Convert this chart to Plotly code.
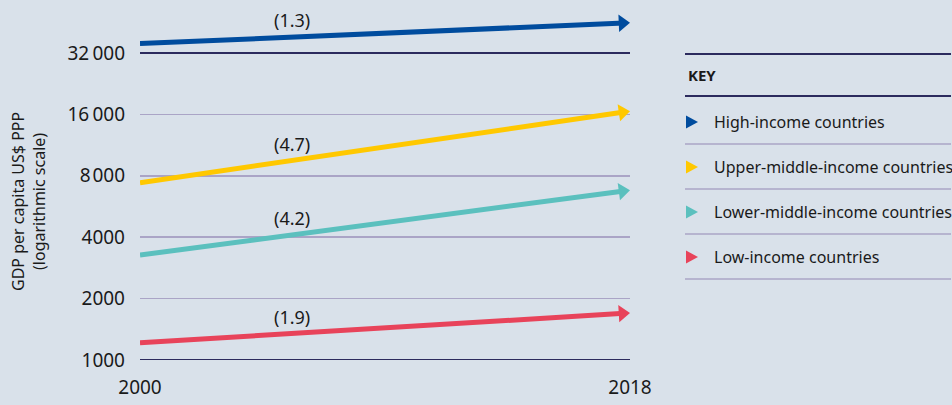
import numpy as np
import plotly.graph_objects as go

# ---------------- data ----------------
years = [2000, 2018]
series_names = [
    "High-income countries",
    "Upper-middle-income countries",
    "Lower-middle-income countries",
    "Low-income countries",
]
gdp_2000 = [35600, 7400, 3270, 1215]
gdp_2018 = [45000, 16600, 6800, 1700]
growth_labels = ["(1.3)", "(4.7)", "(4.2)", "(1.9)"]
colors = ["#004c9e", "#ffc800", "#5bc0be", "#e8435a"]
y_tickvals = [1000, 2000, 4000, 8000, 16000, 32000]
y_ticktext = ["1000", "2000", "4000", "8\u200a000", "16\u2009000", "32\u2009000"]
x_tickvals = [2000, 2018]
y_title = "GDP per capita US$ PPP<br>(logarithmic scale)"

# ---------------- style ----------------
BG = "#d9e1ea"
DARK = "#2c2b5e"
LIGHT = "#aaa4c6"
TXT = "#1a1a1a"
FONT = "Noto Sans"

W, H = 952, 405
# plot area in page pixels: x 140..630, y 10..360
ML, MT = 140, 10
PW, PH = 490, 350
MR = W - ML - PW
MB = H - MT - PH
PX_PER_DECADE = 203.97
HEAD = 15  # arrow head marker size


def px_x(p):
    """page pixel x -> paper coordinate"""
    return (p - ML) / PW


def px_y(p):
    """page pixel y -> paper coordinate"""
    return (MT + PH - p) / PH


fig = go.Figure()

for name, a, b, c in zip(series_names, gdp_2000, gdp_2018, colors):
    fig.add_trace(go.Scatter(
        x=years, y=[a, b], mode="lines+markers", name=name,
        line=dict(color=c, width=5, backoff=6),
        marker=dict(symbol="triangle-up", size=[0, HEAD], angleref="previous",
                    standoff=HEAD / 2, color=c, opacity=1,
                    line=dict(width=0)),
        cliponaxis=False, hoverinfo="skip", showlegend=False,
    ))

# growth-rate labels placed along each line
frac = 0.31
annotations = []
for lab, a, b in zip(growth_labels, gdp_2000, gdp_2018):
    lx = years[0] + frac * (years[1] - years[0])
    ly = np.log10(a) + frac * (np.log10(b) - np.log10(a))
    annotations.append(dict(x=lx, y=ly, xref="x", yref="y", text=lab,
                            showarrow=False, yshift=17,
                            font=dict(family=FONT, size=18, color=TXT)))

# y-axis title
annotations.append(dict(x=px_x(28), y=px_y(202), xref="paper", yref="paper",
                        xanchor="center", yanchor="middle", showarrow=False,
                        textangle=-90, text=y_title,
                        font=dict(family=FONT, size=16, color=TXT)))

shapes = []
# dark outer gridlines (bottom & top ticks)
for v in (y_tickvals[0], y_tickvals[-1]):
    shapes.append(dict(type="line", xref="paper", yref="y", x0=0, x1=1,
                       y0=v, y1=v, line=dict(color=DARK, width=2), layer="above"))

# ---------------- custom key ----------------
KX0, KX1 = 685, 951
shapes.append(dict(type="line", xref="paper", yref="paper",
                   x0=px_x(KX0), x1=px_x(KX1), y0=px_y(54), y1=px_y(54),
                   line=dict(color=DARK, width=2)))
shapes.append(dict(type="line", xref="paper", yref="paper",
                   x0=px_x(KX0), x1=px_x(KX1), y0=px_y(96), y1=px_y(96),
                   line=dict(color=DARK, width=2)))
annotations.append(dict(x=px_x(686), y=px_y(75), xref="paper", yref="paper",
                        xanchor="left", yanchor="middle", showarrow=False,
                        text="<b>KEY</b>",
                        font=dict(family=FONT, size=15, color=TXT)))
for i, (name, c) in enumerate(zip(series_names, colors)):
    yc = 122 + 45 * i
    shapes.append(dict(type="path", xref="paper", yref="paper",
                       xsizemode="pixel", ysizemode="pixel",
                       xanchor=px_x(686), yanchor=px_y(yc),
                       path="M0,-6.5 L12,0 L0,6.5 Z",
                       fillcolor=c, line=dict(width=0)))
    annotations.append(dict(x=px_x(712), y=px_y(yc), xref="paper", yref="paper",
                            xanchor="left", yanchor="middle", showarrow=False,
                            text=name,
                            font=dict(family=FONT, size=16, color=TXT)))
    shapes.append(dict(type="line", xref="paper", yref="paper",
                       x0=px_x(KX0), x1=px_x(KX1),
                       y0=px_y(yc + 22), y1=px_y(yc + 22),
                       line=dict(color=LIGHT, width=1.5)))

fig.update_layout(
    width=W, height=H,
    margin=dict(l=ML, r=MR, t=MT, b=MB, autoexpand=False),
    paper_bgcolor=BG, plot_bgcolor=BG,
    font=dict(family=FONT, color=TXT),
    showlegend=False,
    shapes=shapes, annotations=annotations,
    xaxis=dict(range=[years[0], years[1]], tickvals=x_tickvals,
               showgrid=False, zeroline=False, showline=False, ticks="",
               ticklabelstandoff=14,
               tickfont=dict(family=FONT, size=19, color=TXT)),
    yaxis=dict(type="log", range=[3, 3 + PH / PX_PER_DECADE],
               tickvals=y_tickvals, ticktext=y_ticktext,
               showgrid=True, gridcolor=LIGHT, gridwidth=1.5,
               zeroline=False, showline=False, ticks="",
               ticklabelstandoff=14,
               tickfont=dict(family=FONT, size=19, color=TXT)),
)

page_css = ("document.body.style.margin='0';"
            "document.body.style.overflow='hidden';"
            "document.body.style.background='" + BG + "';")
fig.write_html("out.html", post_script=page_css,
               config={"displayModeBar": False, "staticPlot": True})
